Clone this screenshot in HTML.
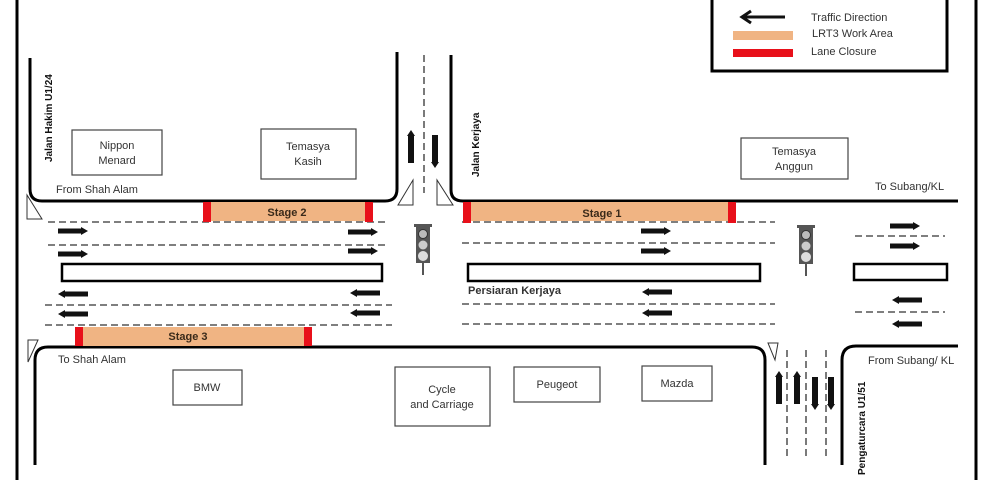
<!DOCTYPE html>
<html><head><meta charset="utf-8"><style>
html,body{margin:0;padding:0;background:#fff;}
svg{display:block;}
text{font-family:"Liberation Sans",sans-serif;fill:#333;}
</style></head><body>
<svg width="995" height="480" viewBox="0 0 995 480" xmlns="http://www.w3.org/2000/svg">
<defs>
<g id="ar"><rect x="0" y="-2.5" width="25" height="5" fill="#111"/><polygon points="23,-4 30,0 23,4" fill="#111"/></g>
<g id="va"><rect x="-3" y="0" width="6" height="28" fill="#111"/><polygon points="-4,1 0,-5 4,1" fill="#111"/></g>
<g id="tl"><rect x="-9" y="0" width="18" height="3" fill="#555"/><rect x="-7" y="3" width="14" height="36" fill="#555"/><circle cx="0" cy="10" r="4.5" fill="#bbb" stroke="#333"/><circle cx="0" cy="21" r="4.5" fill="#ccc"/><circle cx="0" cy="32" r="5" fill="#ddd"/><rect x="-1" y="39" width="2" height="12" fill="#555"/></g>
</defs>
<!-- frame -->
<line x1="17" y1="0" x2="17" y2="480" stroke="#000" stroke-width="3"/>
<line x1="976" y1="0" x2="976" y2="480" stroke="#000" stroke-width="3"/>
<!-- legend -->
<rect x="712" y="-5" width="235" height="76" fill="none" stroke="#000" stroke-width="3"/>
<line x1="742" y1="17" x2="785" y2="17" stroke="#111" stroke-width="3"/>
<polyline points="751,11 742,17 751,23" fill="none" stroke="#111" stroke-width="3"/>
<rect x="733" y="31" width="60" height="9" fill="#f0b483"/>
<rect x="733" y="49" width="60" height="8" fill="#e8101a"/>
<text x="811" y="21" font-size="11">Traffic Direction</text>
<text x="812" y="37" font-size="11">LRT3 Work Area</text>
<text x="811" y="55" font-size="11">Lane Closure</text>
<!-- curbs -->
<g fill="none" stroke="#000" stroke-width="3">
<path d="M30,58 V189 Q30,201 42,201 H385 Q397,201 397,189 V52"/>
<path d="M451,55 V190 Q451,201 463,201 H958"/>
<path d="M35,465 V360 Q35,347 48,347 H752 Q765,347 765,360 V465"/>
<path d="M842,465 V360 Q842,346 856,346 H958"/>
</g>
<!-- dashed lines -->
<g stroke="#333" stroke-width="1.3" stroke-dasharray="7,4" fill="none">
<line x1="424" y1="55" x2="424" y2="193"/>
<line x1="48" y1="222" x2="388" y2="222"/>
<line x1="48" y1="245" x2="388" y2="245"/>
<line x1="45" y1="305" x2="392" y2="305"/>
<line x1="45" y1="325" x2="392" y2="325"/>
<line x1="462" y1="222" x2="775" y2="222"/>
<line x1="462" y1="243" x2="775" y2="243"/>
<line x1="462" y1="304" x2="775" y2="304"/>
<line x1="462" y1="324" x2="775" y2="324"/>
<line x1="855" y1="236" x2="945" y2="236"/>
<line x1="855" y1="312" x2="945" y2="312"/>
<line x1="787" y1="350" x2="787" y2="460"/>
<line x1="806" y1="350" x2="806" y2="460"/>
<line x1="826" y1="350" x2="826" y2="460"/>
</g>
<!-- triangles -->
<g fill="#fff" stroke="#333" stroke-width="1">
<polygon points="27,195 27,219 42,219"/>
<polygon points="413,180 413,205 398,205"/>
<polygon points="437,180 437,205 453,205"/>
<polygon points="28,340 38,340 28,362"/>
<polygon points="768,343 778,343 775,360"/>
</g>
<!-- work areas -->
<rect x="210" y="202" width="158" height="19" fill="#f0b483"/>
<rect x="203" y="202" width="8" height="20" fill="#e8101a"/>
<rect x="365" y="202" width="8" height="20" fill="#e8101a"/>
<text x="287" y="216" font-size="11" font-weight="bold" text-anchor="middle" style="fill:#3a2a1a">Stage 2</text>
<rect x="470" y="202" width="262" height="19" fill="#f0b483"/>
<rect x="463" y="202" width="8" height="21" fill="#e8101a"/>
<rect x="728" y="202" width="8" height="21" fill="#e8101a"/>
<text x="602" y="217" font-size="11" font-weight="bold" text-anchor="middle" style="fill:#3a2a1a">Stage 1</text>
<rect x="80" y="327" width="228" height="19" fill="#f0b483"/>
<rect x="75" y="327" width="8" height="19" fill="#e8101a"/>
<rect x="304" y="327" width="8" height="19" fill="#e8101a"/>
<text x="188" y="340" font-size="11" font-weight="bold" text-anchor="middle" style="fill:#3a2a1a">Stage 3</text>
<!-- medians -->
<g fill="#fff" stroke="#000" stroke-width="2.5">
<rect x="62" y="264" width="320" height="17"/>
<rect x="468" y="264" width="292" height="17"/>
<rect x="854" y="264" width="93" height="16"/>
</g>
<text x="468" y="294" font-size="11" font-weight="bold">Persiaran Kerjaya</text>
<!-- arrows right -->
<use href="#ar" x="58" y="231"/><use href="#ar" x="58" y="254"/>
<use href="#ar" x="348" y="232"/><use href="#ar" x="348" y="251"/>
<use href="#ar" x="641" y="231"/><use href="#ar" x="641" y="251"/>
<use href="#ar" x="890" y="226"/><use href="#ar" x="890" y="246"/>
<!-- arrows left -->
<g transform="translate(88,294) scale(-1,1)"><use href="#ar"/></g>
<g transform="translate(88,314) scale(-1,1)"><use href="#ar"/></g>
<g transform="translate(380,293) scale(-1,1)"><use href="#ar"/></g>
<g transform="translate(380,313) scale(-1,1)"><use href="#ar"/></g>
<g transform="translate(672,292) scale(-1,1)"><use href="#ar"/></g>
<g transform="translate(672,313) scale(-1,1)"><use href="#ar"/></g>
<g transform="translate(922,300) scale(-1,1)"><use href="#ar"/></g>
<g transform="translate(922,324) scale(-1,1)"><use href="#ar"/></g>
<!-- vertical arrows -->
<use href="#va" x="411" y="135"/>
<g transform="translate(435,163) scale(1,-1)"><use href="#va"/></g>
<use href="#va" x="779" y="376"/>
<use href="#va" x="797" y="376"/>
<g transform="translate(815,405) scale(1,-1)"><use href="#va"/></g>
<g transform="translate(831,405) scale(1,-1)"><use href="#va"/></g>
<!-- traffic lights -->
<use href="#tl" x="423" y="224"/>
<use href="#tl" x="806" y="225"/>
<!-- buildings -->
<g fill="#fff" stroke="#444" stroke-width="1.2">
<rect x="72" y="130" width="90" height="45"/>
<rect x="261" y="129" width="95" height="50"/>
<rect x="741" y="138" width="107" height="41"/>
<rect x="173" y="370" width="69" height="35"/>
<rect x="395" y="367" width="95" height="59"/>
<rect x="514" y="367" width="86" height="35"/>
<rect x="642" y="366" width="70" height="35"/>
</g>
<g font-size="11" text-anchor="middle">
<text x="117" y="149">Nippon</text><text x="117" y="164">Menard</text>
<text x="308" y="150">Temasya</text><text x="308" y="165">Kasih</text>
<text x="794" y="155">Temasya</text><text x="794" y="170">Anggun</text>
<text x="207" y="391">BMW</text>
<text x="442" y="393">Cycle</text><text x="442" y="408">and Carriage</text>
<text x="557" y="388">Peugeot</text>
<text x="677" y="387">Mazda</text>
</g>
<g font-size="11">
<text x="56" y="193">From Shah Alam</text>
<text x="875" y="190">To Subang/KL</text>
<text x="58" y="363">To Shah Alam</text>
<text x="868" y="364">From Subang/ KL</text>
</g>
<g font-size="10" font-weight="bold">
<text transform="translate(52,162) rotate(-90)" style="fill:#111">Jalan Hakim U1/24</text>
<text transform="translate(479,177) rotate(-90)" style="fill:#111">Jalan Kerjaya</text>
<text transform="translate(865,475) rotate(-90)" style="fill:#111">Pengaturcara U1/51</text>
</g>
</svg>
</body></html>
